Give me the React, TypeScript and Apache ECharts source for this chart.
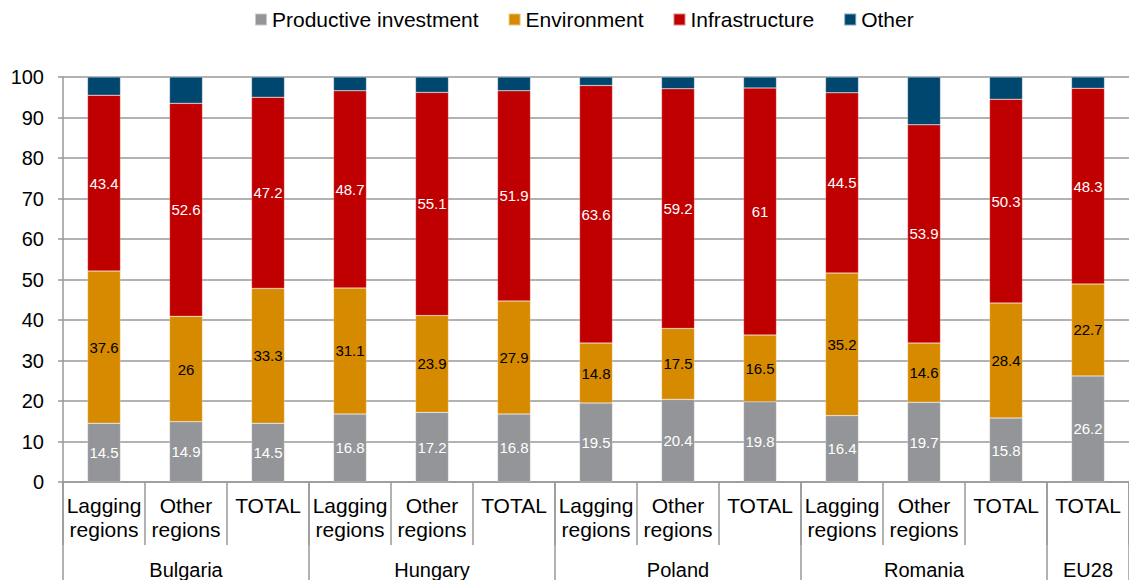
import React, { useEffect, useRef } from "react";
import * as echarts from "echarts";

const categories = [
  "Lagging\nregions", "Other\nregions", "TOTAL",
  "Lagging\nregions", "Other\nregions", "TOTAL",
  "Lagging\nregions", "Other\nregions", "TOTAL",
  "Lagging\nregions", "Other\nregions", "TOTAL",
  "TOTAL",
];
const countries = ["", "Bulgaria", "", "", "Hungary", "", "", "Poland", "", "", "Romania", "", "EU28"];
const groupStarts = [0, 3, 6, 9, 12, 13];

const productive = [14.5, 14.9, 14.5, 16.8, 17.2, 16.8, 19.5, 20.4, 19.8, 16.4, 19.7, 15.8, 26.2];
const environment = [37.6, 26, 33.3, 31.1, 23.9, 27.9, 14.8, 17.5, 16.5, 35.2, 14.6, 28.4, 22.7];
const infrastructure = [43.4, 52.6, 47.2, 48.7, 55.1, 51.9, 63.6, 59.2, 61, 44.5, 53.9, 50.3, 48.3];
const other = [4.5, 6.5, 5, 3.4, 3.8, 3.4, 2.1, 2.9, 2.7, 3.9, 11.8, 5.5, 2.8];

const FONT = "'Liberation Sans', Arial, sans-serif";

export default function App() {
  const ref = useRef<HTMLDivElement>(null);
  useEffect(() => {
    if (!ref.current) return;
    const chart = echarts.init(ref.current, null, { renderer: "svg" });
    const mk = (name: string, data: number[], color: string, labelColor: string | null) => ({
      name,
      type: "bar",
      stack: "s",
      data,
      barWidth: 33,
      itemStyle: { color, borderColor: "rgba(255,255,255,0.5)", borderWidth: 0.5 },
      label: labelColor
        ? { show: true, position: "inside", color: labelColor, fontSize: 15, fontFamily: FONT }
        : { show: false },
    });
    chart.setOption({
      animation: false,
      textStyle: { fontFamily: FONT },
      legend: {
        top: 4,
        left: 249,
        icon: "rect",
        itemWidth: 12,
        itemHeight: 12,
        itemGap: 29,
        textStyle: { fontSize: 21, color: "#000", fontFamily: FONT },
        data: ["Productive investment", "Environment", "Infrastructure", "Other"],
      },
      grid: { left: 63, right: 0, top: 77, bottom: 98, containLabel: false },
      xAxis: [
        {
          type: "category",
          data: categories,
          position: "bottom",
          gridIndex: 0,
          axisLine: { show: true, lineStyle: { color: "#999", width: 1.5 } },
          axisTick: { show: true, interval: 0, length: 63, lineStyle: { color: "#999", width: 1.5 } },
          axisLabel: { interval: 0, fontSize: 21, lineHeight: 24, margin: 11, color: "#000", fontFamily: FONT },
        },
        {
          type: "category",
          data: countries,
          position: "bottom",
          offset: 0,
          gridIndex: 0,
          axisLine: { show: false },
          axisTick: {
            show: true,
            interval: (i: number) => groupStarts.includes(i),
            length: 110,
            lineStyle: { color: "#999", width: 1.5 },
          },
          axisLabel: { interval: 0, fontSize: 20, margin: 78, color: "#000", fontFamily: FONT },
        },
      ],
      yAxis: {
        type: "value",
        min: 0,
        max: 100,
        interval: 10,
        axisLine: { show: true, lineStyle: { color: "#999", width: 1.5 } },
        axisTick: { show: true, length: 5, lineStyle: { color: "#999", width: 1.5 } },
        splitLine: { show: true, lineStyle: { color: "#999", width: 1.5 } },
        axisLabel: { fontSize: 20, color: "#000", margin: 19, fontFamily: FONT },
      },
      series: [
        mk("Productive investment", productive, "#939598", "#fff"),
        mk("Environment", environment, "#D68A00", "#000"),
        mk("Infrastructure", infrastructure, "#C00000", "#fff"),
        mk("Other", other, "#00476F", null),
      ],
    });
    return () => chart.dispose();
  }, []);
  return (
    <div
      ref={ref}
      style={{ position: "fixed", left: 0, top: 0, width: 1129, height: 580, background: "#fff" }}
    />
  );
}
